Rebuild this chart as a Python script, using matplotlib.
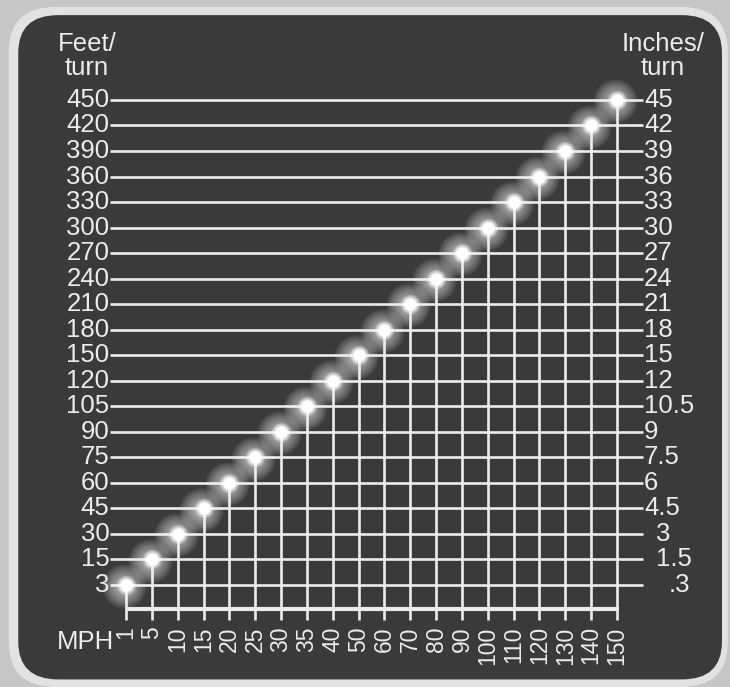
import numpy as np
import matplotlib.pyplot as plt
from matplotlib.patches import FancyBboxPatch

# Values
mph = ['1', '5', '10', '15', '20', '25', '30', '35', '40', '50',
       '60', '70', '80', '90', '100', '110', '120', '130', '140', '150']
feet_per_turn = ['3', '15', '30', '45', '60', '75', '90', '105', '120', '150',
                 '180', '210', '240', '270', '300', '330', '360', '390', '420', '450']
inches_per_turn = ['.3', '1.5', '3', '4.5', '6', '7.5', '9', '10.5', '12', '15',
                   '18', '21', '24', '27', '30', '33', '36', '39', '42', '45']

PANEL = '#3a3a3a'
LINE = '#ececec'
FONT = 'Liberation Sans'

fig = plt.figure(figsize=(7.30, 6.87), dpi=100, facecolor='#c6c6c6')

ax = fig.add_axes([0, 0, 1, 1])
ax.set_xlim(-4.876, 23.374)
ax.set_ylim(-3.995, 22.914)
ax.axis('off')
ax.patch.set_alpha(0)

# Rounded panel with light rim
rim = FancyBboxPatch((0.012, 0.0), 0.985, 0.99,
                     boxstyle='round,pad=0,rounding_size=0.065',
                     transform=fig.transFigure, facecolor='#e2e2e2',
                     edgecolor='none', zorder=0)
panel = FancyBboxPatch((0.025, 0.011), 0.964, 0.967,
                       boxstyle='round,pad=0,rounding_size=0.055',
                       transform=fig.transFigure, facecolor=PANEL,
                       edgecolor='none', zorder=0.5)
ax.add_patch(rim)
ax.add_patch(panel)

xi = np.arange(len(mph))
yi = np.arange(len(feet_per_turn))

# Horizontal rows
ax.hlines(yi, -0.62, 20.0, color=LINE, lw=1.9, zorder=2)

# Vertical columns up to the diagonal point, plus baseline
ax.vlines(xi, -1.37, yi, color=LINE, lw=1.9, zorder=2)
ax.hlines(-0.94, 0, xi[-1] + 0.08, color=LINE, lw=3.0, zorder=2)

# Glowing dots: stacked soft discs, denser towards the centre
for r in np.linspace(32, 7, 16):
    ax.scatter(xi - 0.08, yi - 0.05, s=r ** 2, color='white', alpha=0.055,
               lw=0, zorder=3)
for r, a in [(14, 0.25), (12, 0.35), (10, 0.5), (8.5, 1.0)]:
    ax.scatter(xi, yi, s=r ** 2, color='white', alpha=a, lw=0, zorder=3)

# Left labels (feet/turn)
for j, lab in enumerate(feet_per_turn):
    ax.text(-0.64, j, lab, ha='right', va='center', color=LINE,
            fontsize=18.5, family=FONT, zorder=4)

# Right labels (inches/turn)
for j, lab in enumerate(inches_per_turn):
    x = 20.05 if j >= 3 else 20.5
    if lab == '.3':
        x = 21.0
    ax.text(x, j, lab, ha='left', va='center', color=LINE,
            fontsize=18.5, family=FONT, zorder=4)

# Bottom labels (MPH)
for i, lab in enumerate(mph):
    ax.text(i, -1.62, lab, ha='center', va='top', rotation=90, color=LINE,
            fontsize=16.5, family=FONT, zorder=4)

ax.text(-1.51, 20.72, 'Feet/\nturn', ha='center', va='center', color=LINE,
        fontsize=18.5, family=FONT, linespacing=1.0, zorder=4)
ax.text(20.78, 20.72, 'Inches/\nturn', ha='center', va='center', color=LINE,
        fontsize=18.5, family=FONT, linespacing=1.0, zorder=4)
ax.text(-1.55, -2.23, 'MPH', ha='center', va='center', color=LINE,
        fontsize=18.5, family=FONT, zorder=4)

fig.savefig('out.png', dpi=100, facecolor=fig.get_facecolor())
